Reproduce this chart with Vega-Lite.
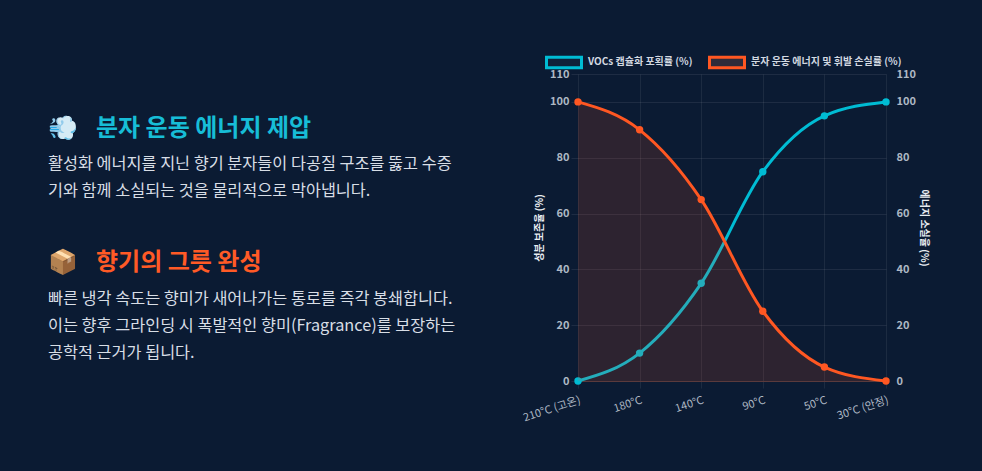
{
  "$schema": "https://vega.github.io/schema/vega-lite/v6.json",
  "background": "#0b1b33",
  "padding": {"left": 48, "top": 43, "right": 53, "bottom": 57},
  "config": {
    "view": {"stroke": null},
    "font": "Noto Sans CJK KR",
    "title": {"font": "Noto Sans CJK KR", "subtitleFont": "Noto Sans CJK KR"}
  },
  "spacing": 53,
  "hconcat": [
    {
      "spacing": 0,
      "vconcat": [
        {
          "width": 420,
          "height": 42,
          "data": {"values": [{}]},
          "mark": {"type": "text", "text": ""}
        },
        {
          "width": 420,
          "height": 52,
          "data": {"values": [{}]},
          "mark": {"type": "text", "text": ""},
          "title": {
            "text": "💨\u2002\u2005분자 운동 에너지 제압",
            "subtitle": [
              "활성화 에너지를 지닌 향기 분자들이 다공질 구조를 뚫고 수증",
              "기와 함께 소실되는 것을 물리적으로 막아냅니다."
            ],
            "anchor": "start",
            "frame": "group",
            "offset": 0,
            "color": "#17bdd7",
            "fontSize": 24,
            "fontWeight": "bold",
            "subtitleColor": "#d8dee6",
            "subtitleFontSize": 16.3,
            "subtitleLineHeight": 27,
            "subtitlePadding": 15
          }
        },
        {
          "width": 420,
          "height": 1,
          "data": {"values": [{}]},
          "mark": {"type": "text", "text": ""},
          "title": {
            "text": "📦\u2002\u2005향기의 그릇 완성",
            "subtitle": [
              "빠른 냉각 속도는 향미가 새어나가는 통로를 즉각 봉쇄합니다.",
              "이는 향후 그라인딩 시 폭발적인 향미(Fragrance)를 보장하는",
              "공학적 근거가 됩니다."
            ],
            "anchor": "start",
            "frame": "group",
            "offset": 0,
            "color": "#ff5a26",
            "fontSize": 24,
            "fontWeight": "bold",
            "subtitleColor": "#d8dee6",
            "subtitleFontSize": 16.3,
            "subtitleLineHeight": 27,
            "subtitlePadding": 16
          }
        }
      ]
    },
    {
      "width": 308,
      "height": 307,
      "data": {
        "values": [
          {"temp": "210°C (고온)", "series": "VOCs 캡슐화 포획률 (%)", "value": 0},
          {"temp": "180°C", "series": "VOCs 캡슐화 포획률 (%)", "value": 10},
          {"temp": "140°C", "series": "VOCs 캡슐화 포획률 (%)", "value": 35},
          {"temp": "90°C", "series": "VOCs 캡슐화 포획률 (%)", "value": 75},
          {"temp": "50°C", "series": "VOCs 캡슐화 포획률 (%)", "value": 95},
          {"temp": "30°C (안정)", "series": "VOCs 캡슐화 포획률 (%)", "value": 100},
          {"temp": "210°C (고온)", "series": "분자 운동 에너지 및 휘발 손실률 (%)", "value": 100},
          {"temp": "180°C", "series": "분자 운동 에너지 및 휘발 손실률 (%)", "value": 90},
          {"temp": "140°C", "series": "분자 운동 에너지 및 휘발 손실률 (%)", "value": 65},
          {"temp": "90°C", "series": "분자 운동 에너지 및 휘발 손실률 (%)", "value": 25},
          {"temp": "50°C", "series": "분자 운동 에너지 및 휘발 손실률 (%)", "value": 5},
          {"temp": "30°C (안정)", "series": "분자 운동 에너지 및 휘발 손실률 (%)", "value": 0}
        ]
      },
      "encoding": {
        "x": {
          "field": "temp",
          "type": "ordinal",
          "sort": ["210°C (고온)", "180°C", "140°C", "90°C", "50°C", "30°C (안정)"],
          "scale": {"type": "point", "padding": 0},
          "axis": {
            "title": null,
            "labelAngle": -18,
            "labelAlign": "right",
            "labelBaseline": "top",
            "labelPadding": 6,
            "labelColor": "#aeb8c4",
            "labelFontSize": 11,
            "grid": true,
            "gridColor": "#ffffff",
            "gridOpacity": 0.07,
            "tickColor": "#ffffff",
            "tickOpacity": 0.07,
            "tickSize": 7,
            "domainColor": "#5a3a3c"
          }
        }
      },
      "layer": [
        {
          "transform": [{"filter": "datum.series === 'VOCs 캡슐화 포획률 (%)'"}],
          "encoding": {
            "y": {
              "field": "value",
              "type": "quantitative",
              "scale": {"domain": [0, 110], "nice": false},
              "axis": {
                "orient": "left",
                "title": "성분 보존율 (%)",
                "titleColor": "#e8ecf1",
                "titleFontSize": 10,
                "titleFontWeight": "bold",
                "titlePadding": 5,
                "values": [0, 20, 40, 60, 80, 100, 110],
                "labelColor": "#aeb8c4",
                "labelFontSize": 11,
                "labelFontWeight": "bold",
                "labelPadding": 2,
                "grid": true,
                "gridColor": "#ffffff",
                "gridOpacity": 0.08,
                "tickColor": "#ffffff",
                "tickOpacity": 0.08,
                "tickSize": 7,
                "domain": false
              }
            }
          },
          "layer": [
            {
              "mark": {"type": "line", "strokeWidth": 3, "interpolate": "monotone"},
              "encoding": {
                "stroke": {
                  "field": "series",
                  "type": "nominal",
                  "scale": {
                    "domain": ["VOCs 캡슐화 포획률 (%)", "분자 운동 에너지 및 휘발 손실률 (%)"],
                    "range": ["#00bcd4", "#ff5722"]
                  },
                  "legend": {
                    "title": null,
                    "orient": "none",
                    "direction": "horizontal",
                    "legendX": 497,
                    "legendY": -31,
                    "symbolType": "M-1,-0.3H1V0.3H-1Z",
                    "symbolSize": 1225,
                    "symbolStrokeWidth": 3,
                    "symbolFillColor": "#16233a",
                    "labelColor": "#d3d9e1",
                    "labelFontSize": 10,
                    "labelFontWeight": "bold",
                    "labelOffset": 5,
                    "columnPadding": 10,
                    "encode": {
                      "symbols": {
                        "update": {
                          "fill": {"signal": "datum.index === 0 ? '#10223a' : '#2e2b3a'"},
                          "fillOpacity": {"value": 1}
                        }
                      }
                    }
                  }
                }
              }
            },
            {
              "mark": {"type": "point", "filled": true, "size": 55, "opacity": 1, "color": "#00bcd4"}
            }
          ]
        },
        {
          "transform": [{"filter": "datum.series !== 'VOCs 캡슐화 포획률 (%)'"}],
          "encoding": {
            "y": {
              "field": "value",
              "type": "quantitative",
              "scale": {"domain": [0, 110], "nice": false},
              "axis": {
                "orient": "right",
                "title": "에너지 소실율 (%)",
                "titleColor": "#e8ecf1",
                "titleFontSize": 10,
                "titleFontWeight": "bold",
                "titlePadding": 3,
                "values": [0, 20, 40, 60, 80, 100, 110],
                "labelColor": "#aeb8c4",
                "labelFontSize": 11,
                "labelFontWeight": "bold",
                "labelPadding": 10,
                "ticks": false,
                "grid": false,
                "domain": false
              }
            }
          },
          "layer": [
            {
              "mark": {
                "type": "area",
                "interpolate": "monotone",
                "color": "#ff5722",
                "opacity": 0.14
              }
            },
            {
              "mark": {"type": "line", "strokeWidth": 3, "interpolate": "monotone"},
              "encoding": {
                "stroke": {"field": "series", "type": "nominal"}
              }
            },
            {
              "mark": {"type": "point", "filled": true, "size": 55, "opacity": 1, "color": "#ff5722"}
            }
          ]
        }
      ],
      "resolve": {"scale": {"y": "independent"}}
    }
  ]
}
